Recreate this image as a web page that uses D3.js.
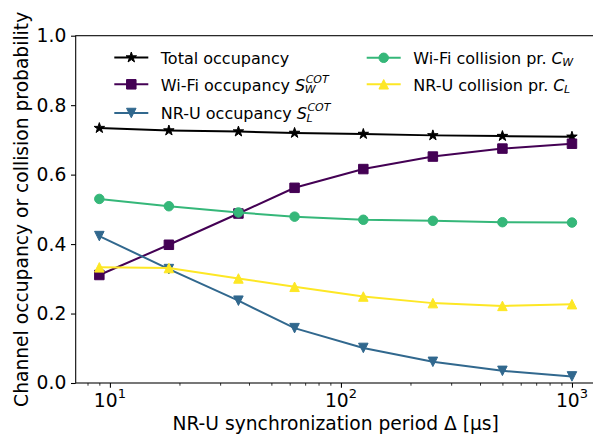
<!DOCTYPE html>
<html>
<head>
<meta charset="utf-8">
<script src="https://cdn.jsdelivr.net/npm/d3@7"></script>
<style>
  body { margin: 0; background: #fff; }
  svg { display: block; font-family: "DejaVu Sans", sans-serif; }
</style>
</head>
<body>
<svg id="chart"></svg>
<script>
// synchronization period (us) and the five curves
const delta = [9, 18, 36, 63, 125, 250, 500, 1000];
const totalOcc = [0.734, 0.727, 0.724, 0.720, 0.717, 0.713, 0.711, 0.709];
const wifiOcc = [0.311, 0.398, 0.488, 0.562, 0.616, 0.652, 0.675, 0.689];
const nruOcc = [0.423, 0.328, 0.237, 0.158, 0.101, 0.061, 0.035, 0.019];
const wifiColl = [0.530, 0.509, 0.491, 0.479, 0.470, 0.467, 0.463, 0.462];
const nruColl = [0.333, 0.331, 0.301, 0.277, 0.249, 0.230, 0.222, 0.227];

const yTicks = [0, 0.2, 0.4, 0.6, 0.8, 1.0];
const xMajor = [10, 100, 1000];
const xExp = ["1", "2", "3"];

const series = [
  { name: "Total occupancy", sym: "", sub: "", sup: "", values: totalOcc, color: "#000000", marker: "star" },
  { name: "Wi-Fi occupancy\u00a0", sym: "S", sub: "W", sup: "COT", values: wifiOcc, color: "#440154", marker: "square" },
  { name: "NR-U occupancy\u00a0", sym: "S", sub: "L", sup: "COT", values: nruOcc, color: "#31688e", marker: "tridown" },
  { name: "Wi-Fi collision pr.\u00a0", sym: "C", sub: "W", sup: "", values: wifiColl, color: "#35b779", marker: "circle" },
  { name: "NR-U collision pr.\u00a0", sym: "C", sub: "L", sup: "", values: nruColl, color: "#fde725", marker: "triup" }
];

const width = 593, height = 438;
const margin = { left: 75.7, right: 595.6, top: 35.7, bottom: 383 };

const svg = d3.select("#chart").attr("width", width).attr("height", height);

// log x with matplotlib-like 5% margins
const lo = Math.log10(d3.min(delta)), hi = Math.log10(d3.max(delta));
const pad = 0.05 * (hi - lo);
const xScale = d3.scaleLog()
  .domain([Math.pow(10, lo - pad), Math.pow(10, hi + pad)])
  .range([margin.left, margin.right]);
const yScale = d3.scaleLinear().domain([0, 1]).range([margin.bottom, margin.top]);

// marker shapes
const ms = 9.5;
function markerPath(type) {
  const h = ms / 2;
  if (type === "square") return `M${-h},${-h}H${h}V${h}H${-h}Z`;
  if (type === "triup") return `M0,${-h}L${h},${h}L${-h},${h}Z`;
  if (type === "tridown") return `M0,${h}L${h},${-h}L${-h},${-h}Z`;
  if (type === "circle") return d3.symbol(d3.symbolCircle, Math.PI * h * h)();
  return d3.symbol(d3.symbolStar, 34)();
}

// minor ticks
const minors = [];
[1, 10, 100, 1000].forEach(dec => {
  for (let k = 2; k <= 9; k++) {
    const v = dec * k;
    if (v > xScale.domain()[0] && v < xScale.domain()[1]) minors.push(v);
  }
});

svg.append("g")
  .attr("transform", `translate(0,${margin.bottom})`)
  .call(d3.axisBottom(xScale).tickValues(minors).tickSize(2.7).tickFormat(""))
  .call(g => g.select(".domain").remove())
  .call(g => g.selectAll("line").attr("stroke-width", 0.8));

svg.append("g")
  .attr("transform", `translate(0,${margin.bottom})`)
  .call(d3.axisBottom(xScale).tickValues(xMajor).tickSize(4.7).tickFormat(""))
  .call(g => g.select(".domain").remove())
  .call(g => g.selectAll("line").attr("stroke-width", 1.07));

xMajor.forEach((v, i) => {
  const t = svg.append("text")
    .attr("y", 406.7)
    .attr("font-size", 18.7)
    .attr("fill", "#000");
  t.append("tspan").text("10");
  t.append("tspan").attr("font-size", 13).attr("dy", -9).text(xExp[i]);
  const w = t.node().getComputedTextLength();
  t.attr("x", xScale(v) - w / 2);
});

svg.append("g")
  .attr("transform", `translate(${margin.left},0)`)
  .call(d3.axisLeft(yScale).tickValues(yTicks).tickSize(4.7).tickPadding(4.7).tickFormat(d3.format(".1f")))
  .call(g => g.select(".domain").remove())
  .call(g => g.selectAll("line").attr("stroke-width", 1.07))
  .call(g => g.selectAll("text").attr("font-size", 18.7).attr("font-family", "DejaVu Sans").attr("fill", "#000"));

// spines
svg.append("rect")
  .attr("x", margin.left).attr("y", margin.top)
  .attr("width", margin.right - margin.left).attr("height", margin.bottom - margin.top)
  .attr("fill", "none").attr("stroke", "#000").attr("stroke-width", 1.07);

// axis labels
svg.append("text")
  .attr("x", (margin.left + margin.right) / 2).attr("y", 430)
  .attr("text-anchor", "middle").attr("font-size", 18.7)
  .text("NR-U synchronization period Δ [µs]");

svg.append("text")
  .attr("transform", `translate(28,${(margin.top + margin.bottom) / 2}) rotate(-90)`)
  .attr("text-anchor", "middle").attr("font-size", 18.7)
  .text("Channel occupancy or collision probability");

// lines and markers
const line = d3.line().x((d, i) => xScale(delta[i])).y(d => yScale(d));
const plot = svg.append("g");
series.forEach(s => {
  plot.append("path")
    .attr("d", line(s.values))
    .attr("fill", "none").attr("stroke", s.color).attr("stroke-width", 2);
  plot.selectAll(null)
    .data(s.values)
    .enter()
    .append("path")
    .attr("d", markerPath(s.marker))
    .attr("transform", (d, i) => `translate(${xScale(delta[i])},${yScale(d)})`)
    .attr("fill", s.color).attr("stroke", s.color).attr("stroke-width", 1);
});

// legend (two columns)
const legendPos = [
  { x: 114.3, y: 57.5 }, { x: 114.3, y: 84.3 }, { x: 114.3, y: 113 },
  { x: 366.7, y: 57.8 }, { x: 366.7, y: 84.3 }
];
series.forEach((s, i) => {
  const p = legendPos[i];
  const g = svg.append("g").attr("transform", `translate(${p.x},${p.y})`);
  g.append("line").attr("x1", 0).attr("x2", 34).attr("y1", 0).attr("y2", 0)
    .attr("stroke", s.color).attr("stroke-width", 2);
  g.append("path").attr("d", markerPath(s.marker))
    .attr("transform", "translate(17,0)")
    .attr("fill", s.color).attr("stroke", s.color).attr("stroke-width", 1);
  const t = g.append("text").attr("x", 46.5).attr("y", 6.2).attr("font-size", 16);
  t.append("tspan").text(s.name);
  if (s.sym) t.append("tspan").attr("font-style", "italic").text(s.sym);
  const end = 46.5 + t.node().getComputedTextLength();
  // super/subscripts stacked after the symbol, inside the same text
  if (s.sup) {
    t.append("tspan").attr("x", end + 0.5).attr("y", -1.6)
      .attr("font-size", 11).attr("font-style", "italic").text(s.sup);
  }
  if (s.sub) {
    t.append("tspan").attr("x", end - 0.5).attr("y", 8.5)
      .attr("font-size", 11).attr("font-style", "italic").text(s.sub);
  }
});
</script>
</body>
</html>
